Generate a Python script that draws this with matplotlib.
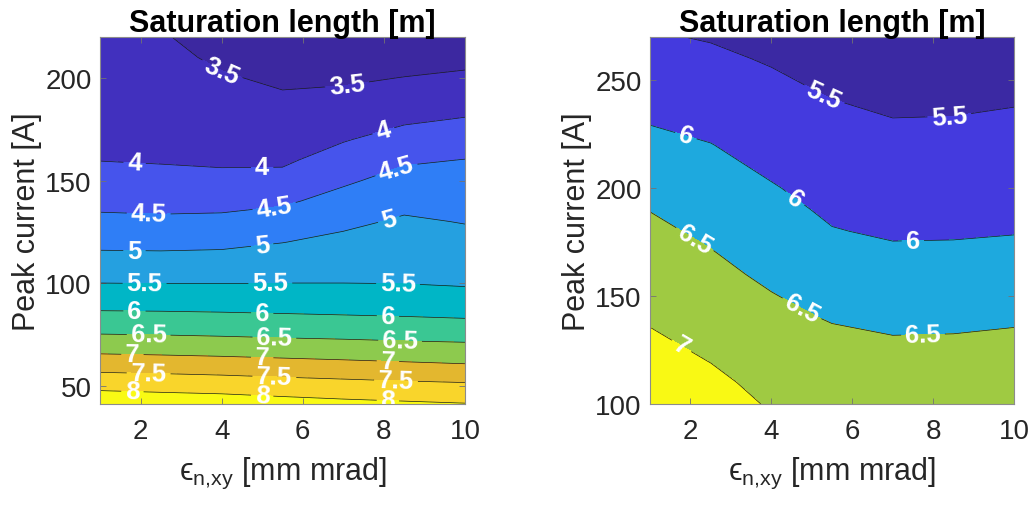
import numpy as np
import matplotlib
matplotlib.use("Agg")
import matplotlib.pyplot as plt

plt.rcParams["font.family"] = ["Liberation Sans", "DejaVu Sans"]
plt.rcParams["mathtext.fontset"] = "custom"
plt.rcParams["mathtext.rm"] = "Liberation Sans"
plt.rcParams["mathtext.it"] = "Liberation Sans:italic"
plt.rcParams["mathtext.fallback"] = "stixsans"

# normalised emittance grid [mm mrad], shared by both scans
emittance = [1.0, 2.5, 4.0, 5.5, 7.0, 8.5, 10.0]

# scan 1: peak current [A] rows, saturation length [m] per emittance column
current_left = [41, 50, 60, 70, 80, 90, 100, 110, 120, 130,
                140, 150, 160, 170, 180, 190, 200, 210, 220]
lsat_left = [
    [8.37, 8.31, 8.27, 8.19, 8.12, 8.07, 8.02],
    [7.86, 7.82, 7.78, 7.72, 7.67, 7.62, 7.58],
    [7.30, 7.27, 7.23, 7.18, 7.13, 7.08, 7.03],
    [6.75, 6.72, 6.69, 6.65, 6.62, 6.58, 6.55],
    [6.26, 6.25, 6.22, 6.19, 6.16, 6.13, 6.10],
    [5.86, 5.85, 5.84, 5.82, 5.80, 5.78, 5.74],
    [5.50, 5.49, 5.49, 5.50, 5.50, 5.49, 5.45],
    [5.18, 5.17, 5.19, 5.24, 5.31, 5.34, 5.30],
    [4.88, 4.87, 4.89, 4.99, 5.11, 5.20, 5.14],
    [4.60, 4.59, 4.61, 4.71, 4.90, 5.06, 4.98],
    [4.38, 4.34, 4.35, 4.43, 4.66, 4.87, 4.82],
    [4.18, 4.12, 4.10, 4.13, 4.43, 4.66, 4.67],
    [3.99, 3.97, 3.94, 3.93, 4.19, 4.44, 4.51],
    [3.93, 3.90, 3.84, 3.80, 3.97, 4.17, 4.27],
    [3.86, 3.82, 3.74, 3.68, 3.79, 3.93, 4.02],
    [3.80, 3.75, 3.64, 3.55, 3.60, 3.72, 3.79],
    [3.73, 3.68, 3.54, 3.43, 3.44, 3.51, 3.57],
    [3.66, 3.61, 3.43, 3.30, 3.29, 3.34, 3.39],
    [3.60, 3.54, 3.32, 3.18, 3.15, 3.17, 3.22],
]

# scan 2: higher peak currents
current_right = [100, 110, 120, 130, 140, 150, 160, 170, 180,
                 190, 200, 210, 220, 230, 240, 250, 260, 270]
lsat_right = [
    [7.35, 7.19, 6.96, 6.88, 6.82, 6.83, 6.86],
    [7.24, 7.09, 6.88, 6.78, 6.72, 6.73, 6.76],
    [7.15, 6.99, 6.79, 6.68, 6.62, 6.63, 6.66],
    [7.05, 6.90, 6.70, 6.58, 6.52, 6.53, 6.56],
    [6.96, 6.80, 6.61, 6.47, 6.41, 6.41, 6.45],
    [6.87, 6.71, 6.52, 6.36, 6.29, 6.29, 6.33],
    [6.77, 6.61, 6.42, 6.25, 6.17, 6.18, 6.21],
    [6.68, 6.52, 6.32, 6.14, 6.06, 6.06, 6.10],
    [6.59, 6.42, 6.23, 6.02, 5.95, 5.96, 5.98],
    [6.49, 6.32, 6.13, 5.93, 5.87, 5.87, 5.90],
    [6.37, 6.21, 6.03, 5.85, 5.78, 5.79, 5.82],
    [6.24, 6.11, 5.93, 5.76, 5.70, 5.70, 5.73],
    [6.11, 6.01, 5.84, 5.67, 5.61, 5.62, 5.65],
    [5.99, 5.90, 5.75, 5.59, 5.52, 5.53, 5.56],
    [5.88, 5.79, 5.65, 5.51, 5.44, 5.44, 5.48],
    [5.77, 5.68, 5.56, 5.41, 5.34, 5.35, 5.38],
    [5.66, 5.58, 5.46, 5.32, 5.25, 5.26, 5.29],
    [5.54, 5.47, 5.36, 5.23, 5.16, 5.17, 5.20],
]

levels_left = [3.0, 3.5, 4.0, 4.5, 5.0, 5.5, 6.0, 6.5, 7.0, 7.5, 8.0, 8.5]
levels_right = [5.0, 5.5, 6.0, 6.5, 7.0, 7.5]

# parula-like band colours
colors_left = ["#3c28a0", "#4130be", "#4654ec", "#2f7ef6", "#25a0e0", "#00b6c6",
               "#3ac793", "#8dca4e", "#e3b72f", "#f9d52b", "#f9fa14"]
colors_right = ["#3b29a3", "#443ade", "#1ea9de", "#9fca42", "#f9f914"]

# where the contour labels go (data coords)
label_pts_left = [
    (4.0, 203.5), (7.1, 195.5),
    (1.85, 157.0), (5.0, 154.2), (8.0, 173.5),
    (2.2, 133.3), (5.3, 137.0), (8.3, 156.0),
    (1.85, 115.6), (5.0, 118.3), (8.1, 132.5),
    (2.1, 99.9), (5.2, 100.1), (8.35, 99.3),
    (1.85, 85.8), (5.0, 84.6), (8.1, 83.1),
    (2.2, 74.2), (5.3, 73.0), (8.4, 71.7),
    (1.8, 65.1), (5.0, 63.5), (8.1, 61.7),
    (2.2, 55.8), (5.3, 54.4), (8.3, 52.6),
    (1.8, 47.1), (5.0, 45.0), (8.1, 42.7),
]
label_pts_right = [
    (5.3, 243.0), (8.4, 233.7),
    (1.85, 222.0), (4.5, 193.0), (7.5, 174.5),
    (2.1, 176.0), (4.75, 144.0), (7.75, 132.0),
    (1.8, 127.5),
]


def draw_panel(ax, current, lsat, levels, colors, label_pts, ylim, yticks):
    X, Y = np.meshgrid(emittance, current)
    Z = np.array(lsat)
    ax.contourf(X, Y, Z, levels=levels, colors=colors)
    cs = ax.contour(X, Y, Z, levels=levels, colors="#1a1a1a", linewidths=0.5)
    texts = ax.clabel(cs, manual=label_pts, inline=True, inline_spacing=4,
                      fontsize=18.5, colors="white", fmt=lambda v: f"{v:g}")
    for t in texts:
        t.set_fontweight("bold")
        t.set_clip_on(True)

    ax.set_xlim(1, 10)
    ax.set_ylim(*ylim)
    ax.set_xticks([2, 4, 6, 8, 10])
    ax.set_yticks(yticks)
    ax.tick_params(direction="in", length=4, width=0.6, top=True, right=True,
                   labelsize=20, color="0.45", labelcolor="#262626")
    ax.tick_params(axis="x", pad=10)
    ax.tick_params(axis="y", pad=6)
    for s in ax.spines.values():
        s.set_color("0.55")
        s.set_linewidth(0.8)

    ax.set_title("Saturation length [m]", fontsize=22, fontweight="bold", pad=4)
    ax.set_ylabel("Peak current [A]", fontsize=22, color="#262626", labelpad=2)
    ax.set_xlabel("$\\text{\u03f5}_{\\text{n,xy}}$ [mm mrad]", fontsize=22,
                  color="#262626", labelpad=8)


fig = plt.figure(figsize=(10.36, 5.10), dpi=100)
ax1 = fig.add_axes([0.0965, 0.2059, 0.3523, 0.7196])
ax2 = fig.add_axes([0.6274, 0.2059, 0.3514, 0.7196])

draw_panel(ax1, current_left, lsat_left, levels_left, colors_left,
           label_pts_left, (41, 220), [50, 100, 150, 200])
draw_panel(ax2, current_right, lsat_right, levels_right, colors_right,
           label_pts_right, (100, 270), [100, 150, 200, 250])

fig.savefig("out.png", dpi=100, facecolor="white")
